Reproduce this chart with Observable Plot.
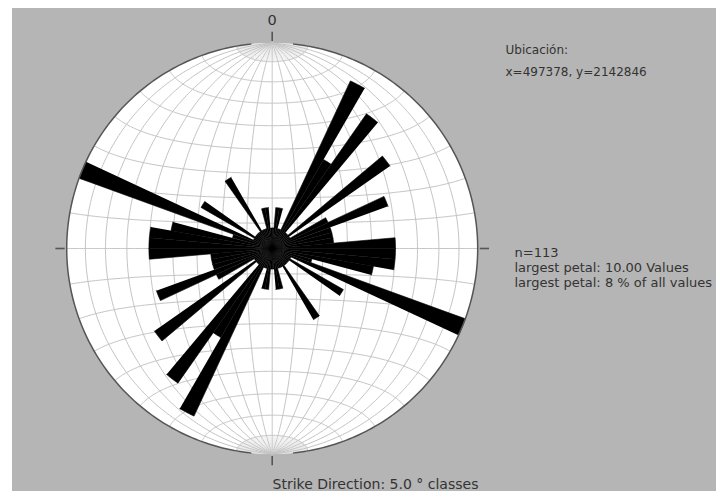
<!DOCTYPE html>
<html>
<head>
<meta charset="utf-8">
<script src="https://cdn.jsdelivr.net/npm/d3@7"></script>
<script src="https://cdn.jsdelivr.net/npm/@observablehq/plot@0.6"></script>
<style>
  html, body { margin: 0; padding: 0; background: #ffffff; }
  #chart { position: absolute; left: 12px; top: 8px; }
</style>
</head>
<body>
<div id="chart"></div>
<script>
// ---- Data (5° strike classes, bidirectional) ----
const classStarts = [0, 5, 10, 15, 20, 25, 30, 35, 40, 45, 50, 55, 60, 65, 70, 75, 80, 85,
                     90, 95, 100, 105, 110, 115, 120, 125, 130, 135, 140, 145, 150, 155, 160, 165, 170, 175];
const classCounts = [1, 2, 2, 1, 1, 9, 5, 8, 1, 1, 7, 1, 3, 6, 3, 3, 3, 6,
                     6, 6, 5, 2, 10, 1, 4, 1, 1, 1, 1, 4, 1, 1, 1, 2, 2, 1];
const classWidth = 5;
const largestPetal = 10;           // petal length that reaches the primitive circle
const tickDirections = [0, 90, 180, 270];
const northLabel = "0";
const locationLines = ["Ubicación:", "x=497378, y=2142846"];
const statsLines = ["n=113", "largest petal: 10.00 Values", "largest petal: 8 % of all values"];
const footerText = "Strike Direction: 5.0 ° classes";

// ---- Geometry helpers ----
const R = largestPetal;
const rad = d => d * Math.PI / 180;
const polar = (r, az) => ({x: r * Math.sin(rad(az)), y: r * Math.cos(rad(az))});

// Lambert equal-area (Schmidt) net, equatorial aspect, scaled to radius R
function schmidt(lon, lat) {
  const k = Math.sqrt(2 / (1 + Math.cos(rad(lat)) * Math.cos(rad(lon))));
  return {x: k * Math.cos(rad(lat)) * Math.sin(rad(lon)) / Math.SQRT2 * R,
          y: k * Math.sin(rad(lat)) / Math.SQRT2 * R};
}
const net = [];
// great circles every 10°
for (let lon = -80; lon <= 80; lon += 10)
  for (let lat = -90; lat <= 90; lat += 1) net.push({id: `m${lon}`, ...schmidt(lon, lat)});
// small circles every 10°
for (let lat = -80; lat <= 80; lat += 10)
  for (let lon = -90; lon <= 90; lon += 1) net.push({id: `p${lat}`, ...schmidt(lon, lat)});
// fine meridians near the poles
const fan = [];
for (let lon = -87.5; lon <= 87.5; lon += 2.5) {
  if (lon % 10 === 0) continue;
  for (let lat = 80; lat <= 88; lat += 0.5) fan.push({id: `n${lon}`, ...schmidt(lon, lat)});
  for (let lat = -88; lat <= -80; lat += 0.5) fan.push({id: `s${lon}`, ...schmidt(lon, lat)});
}

// white disk and primitive circle (outline has small gaps at the poles)
const disk = d3.range(0, 361, 1).map(a => polar(R, a));
const outline = [];
for (let a = 6; a <= 174; a += 1) outline.push({id: "e", ...polar(R, a)});
for (let a = 186; a <= 354; a += 1) outline.push({id: "w", ...polar(R, a)});

// petals: each class drawn in both directions
const petals = [];
classStarts.forEach((start, i) => {
  for (const off of [0, 180]) {
    const id = `${start + off}`;
    petals.push({id, x: 0, y: 0});
    for (let a = start + off; a <= start + off + classWidth + 1e-9; a += 0.5)
      petals.push({id, ...polar(classCounts[i], a)});
  }
});

// direction ticks outside the circle
const ticks = tickDirections.map(d => {
  const p1 = polar(R * 1.01, d), p2 = polar(R * 1.055, d);
  return {x1: p1.x, y1: p1.y, x2: p2.x, y2: p2.y};
});

const textColor = "#333333";
const chart = Plot.plot({
  width: 704,
  height: 483,
  marginLeft: 54.2,
  marginRight: 238.8,
  marginTop: 34.5,
  marginBottom: 37.5,
  x: {domain: [-R, R], axis: null},
  y: {domain: [-R, R], axis: null},
  style: {background: "#b5b5b5", fontFamily: "'DejaVu Sans', sans-serif", overflow: "visible"},
  marks: [
    Plot.line(disk, {x: "x", y: "y", fill: "white", stroke: "none"}),
    Plot.line(fan, {x: "x", y: "y", z: "id", stroke: "#e0e0e0", strokeWidth: 0.6}),
    Plot.line(net, {x: "x", y: "y", z: "id", stroke: "#c4c4c4", strokeWidth: 1}),
    Plot.line(petals, {x: "x", y: "y", z: "id", fill: "black", stroke: "black", strokeWidth: 0.6, strokeLinejoin: "miter"}),
    Plot.line(outline, {x: "x", y: "y", z: "id", stroke: "#555555", strokeWidth: 1.5}),
    Plot.link(ticks, {x1: "x1", y1: "y1", x2: "x2", y2: "y2", stroke: "#555555", strokeWidth: 1.6}),
    Plot.text([northLabel], {frameAnchor: "top", dy: -18.5, lineAnchor: "bottom", textAnchor: "middle", fontSize: 14.5, fill: textColor}),
    Plot.text([locationLines.join("\n")], {frameAnchor: "top-right", dx: 27.8, dy: 33.2, lineAnchor: "bottom", textAnchor: "start", fontSize: 12, lineHeight: 1.867, fill: textColor}),
    Plot.text([statsLines.join("\n")], {frameAnchor: "right", dx: 36.8, dy: 38.3, lineAnchor: "bottom", textAnchor: "start", fontSize: 13, lineHeight: 1.138, fill: textColor}),
    Plot.text([footerText], {frameAnchor: "bottom", dx: 0.3, dy: 34.5, lineAnchor: "bottom", textAnchor: "start", fontSize: 14, fill: textColor})
  ]
});
document.getElementById("chart").appendChild(chart);
</script>
</body>
</html>
